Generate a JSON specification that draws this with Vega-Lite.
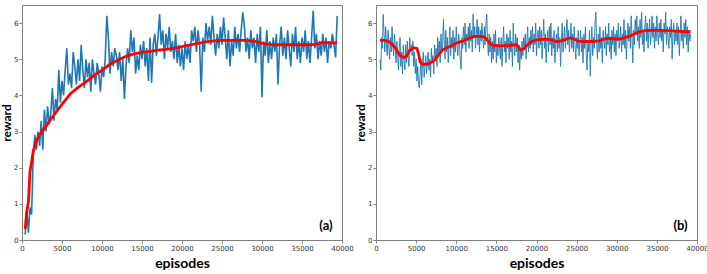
{
"$schema": "https://vega.github.io/schema/vega-lite/v6.json",
"padding": {"left": 0, "top": 4, "right": 0, "bottom": 0},
"spacing": 34,
"bounds": "flush",
"config": {
 "font": "Lato",
 "view": {"stroke": "#808080", "strokeWidth": 1},
 "axis": {"grid": false, "domain": false, "tickColor": "#808080", "tickSize": 3, "labelFontSize": 7, "labelColor": "#333333", "labelFont": "DejaVu Sans", "titleFontWeight": "bold", "titleColor": "#000000", "labelPadding": 1, "labelOverlap": false, "labelSeparation": 0},
 "axisX": {"titleFontSize": 14, "titlePadding": 5, "labelFlush": false},
 "axisY": {"titleFontSize": 12, "titlePadding": 0}
},
"datasets": {
"a_raw": [
{"e":400,"r":0.15},{"e":600,"r":0.85},{"e":800,"r":0.2},{"e":1000,"r":0.9},{"e":1200,"r":0.7},{"e":1400,"r":2.3},{"e":1600,"r":2.9},{"e":1800,"r":2.5},{"e":2000,"r":3.0},{"e":2200,"r":2.6},
{"e":2400,"r":3.3},{"e":2600,"r":2.5},{"e":2800,"r":3.6},{"e":3000,"r":3.0},{"e":3200,"r":3.7},{"e":3400,"r":3.2},{"e":3600,"r":3.5},{"e":3800,"r":4.2},{"e":4000,"r":3.3},{"e":4200,"r":3.9},
{"e":4400,"r":3.6},{"e":4600,"r":4.7},{"e":4800,"r":3.8},{"e":5000,"r":4.4},{"e":5200,"r":4.0},{"e":5400,"r":4.7},{"e":5600,"r":5.3},{"e":5800,"r":4.3},{"e":6000,"r":4.6},{"e":6200,"r":4.2},
{"e":6400,"r":5.2},{"e":6600,"r":4.8},{"e":6800,"r":4.3},{"e":7000,"r":5.0},{"e":7200,"r":4.4},{"e":7400,"r":5.4},{"e":7600,"r":4.7},{"e":7800,"r":4.2},{"e":8000,"r":5.0},{"e":8200,"r":4.5},
{"e":8400,"r":4.9},{"e":8600,"r":4.1},{"e":8800,"r":5.0},{"e":9000,"r":4.6},{"e":9200,"r":4.3},{"e":9400,"r":4.9},{"e":9600,"r":4.6},{"e":9800,"r":4.1},{"e":10000,"r":4.8},{"e":10200,"r":4.5},
{"e":10400,"r":5.0},{"e":10600,"r":6.2},{"e":10800,"r":5.6},{"e":11000,"r":4.6},{"e":11200,"r":5.2},{"e":11400,"r":4.8},{"e":11600,"r":5.3},{"e":11800,"r":5.1},{"e":12000,"r":4.7},{"e":12200,"r":5.2},
{"e":12400,"r":4.4},{"e":12600,"r":5.0},{"e":12800,"r":3.9},{"e":13000,"r":4.8},{"e":13200,"r":5.3},{"e":13400,"r":4.9},{"e":13600,"r":5.8},{"e":13800,"r":5.2},{"e":14000,"r":5.6},{"e":14200,"r":4.6},
{"e":14400,"r":5.1},{"e":14600,"r":4.7},{"e":14800,"r":5.4},{"e":15000,"r":5.0},{"e":15200,"r":5.5},{"e":15400,"r":4.8},{"e":15600,"r":5.3},{"e":15800,"r":4.4},{"e":16000,"r":5.6},{"e":16200,"r":4.35},
{"e":16400,"r":5.4},{"e":16600,"r":5.7},{"e":16800,"r":5.1},{"e":17000,"r":5.6},{"e":17200,"r":6.25},{"e":17400,"r":5.4},{"e":17600,"r":5.8},{"e":17800,"r":5.0},{"e":18000,"r":5.7},{"e":18200,"r":5.3},
{"e":18400,"r":5.9},{"e":18600,"r":5.2},{"e":18800,"r":5.5},{"e":19000,"r":5.0},{"e":19200,"r":5.7},{"e":19400,"r":4.9},{"e":19600,"r":5.4},{"e":19800,"r":4.8},{"e":20000,"r":5.3},{"e":20200,"r":4.7},
{"e":20400,"r":5.5},{"e":20600,"r":5.0},{"e":20800,"r":5.4},{"e":21000,"r":4.9},{"e":21200,"r":5.8},{"e":21400,"r":5.5},{"e":21600,"r":5.9},{"e":21800,"r":5.2},{"e":22000,"r":5.8},{"e":22200,"r":5.4},
{"e":22400,"r":4.1},{"e":22600,"r":5.6},{"e":22800,"r":5.2},{"e":23000,"r":6.0},{"e":23200,"r":5.5},{"e":23400,"r":5.9},{"e":23600,"r":5.4},{"e":23800,"r":6.2},{"e":24000,"r":5.6},{"e":24200,"r":5.1},
{"e":24400,"r":5.7},{"e":24600,"r":5.3},{"e":24800,"r":5.9},{"e":25000,"r":5.4},{"e":25200,"r":6.15},{"e":25400,"r":5.6},{"e":25600,"r":5.0},{"e":25800,"r":5.8},{"e":26000,"r":4.8},{"e":26200,"r":5.5},
{"e":26400,"r":5.1},{"e":26600,"r":5.9},{"e":26800,"r":5.3},{"e":27000,"r":5.7},{"e":27200,"r":5.2},{"e":27400,"r":5.8},{"e":27600,"r":6.3},{"e":27800,"r":5.9},{"e":28000,"r":5.2},{"e":28200,"r":5.6},
{"e":28400,"r":5.0},{"e":28600,"r":5.8},{"e":28800,"r":5.3},{"e":29000,"r":5.6},{"e":29200,"r":4.9},{"e":29400,"r":5.7},{"e":29600,"r":5.2},{"e":29800,"r":5.9},{"e":30000,"r":3.95},{"e":30200,"r":5.5},
{"e":30400,"r":5.1},{"e":30600,"r":5.8},{"e":30800,"r":4.9},{"e":31000,"r":5.5},{"e":31200,"r":5.0},{"e":31400,"r":5.6},{"e":31600,"r":5.2},{"e":31800,"r":5.7},{"e":32000,"r":4.3},{"e":32200,"r":5.4},
{"e":32400,"r":5.9},{"e":32600,"r":5.1},{"e":32800,"r":5.6},{"e":33000,"r":5.0},{"e":33200,"r":5.8},{"e":33400,"r":5.3},{"e":33600,"r":4.8},{"e":33800,"r":5.7},{"e":34000,"r":5.2},{"e":34200,"r":5.9},
{"e":34400,"r":5.0},{"e":34600,"r":5.5},{"e":34800,"r":4.9},{"e":35000,"r":5.6},{"e":35200,"r":5.2},{"e":35400,"r":5.8},{"e":35600,"r":5.0},{"e":35800,"r":5.5},{"e":36000,"r":4.9},{"e":36200,"r":5.6},
{"e":36400,"r":6.35},{"e":36600,"r":5.3},{"e":36800,"r":5.7},{"e":37000,"r":5.0},{"e":37200,"r":5.5},{"e":37400,"r":5.1},{"e":37600,"r":5.7},{"e":37800,"r":5.2},{"e":38000,"r":5.6},{"e":38200,"r":4.9},
{"e":38400,"r":5.5},{"e":38600,"r":5.3},{"e":38800,"r":5.7},{"e":39000,"r":5.4},{"e":39200,"r":5.05},{"e":39400,"r":6.2}
],
"a_smooth": [
{"e":400,"r":0.3},{"e":600,"r":0.8},{"e":800,"r":1.05},{"e":1000,"r":1.9},{"e":1200,"r":2.15},{"e":1400,"r":2.45},{"e":1800,"r":2.75},{"e":2250,"r":2.93},{"e":3000,"r":3.15},{"e":3900,"r":3.43},
{"e":5000,"r":3.75},{"e":6000,"r":4.03},{"e":7000,"r":4.22},{"e":8100,"r":4.39},{"e":9000,"r":4.55},{"e":10000,"r":4.7},{"e":11000,"r":4.86},{"e":12000,"r":4.98},{"e":13000,"r":5.08},{"e":14000,"r":5.15},
{"e":15000,"r":5.19},{"e":16000,"r":5.22},{"e":17000,"r":5.25},{"e":18000,"r":5.27},{"e":19000,"r":5.3},{"e":20000,"r":5.35},{"e":21000,"r":5.4},{"e":22000,"r":5.44},{"e":23000,"r":5.48},{"e":24000,"r":5.51},
{"e":25000,"r":5.52},{"e":26000,"r":5.52},{"e":27000,"r":5.52},{"e":28000,"r":5.52},{"e":29000,"r":5.5},{"e":30000,"r":5.44},{"e":31000,"r":5.41},{"e":32000,"r":5.4},{"e":34000,"r":5.4},{"e":36000,"r":5.4},
{"e":36800,"r":5.41},{"e":37300,"r":5.45},{"e":38000,"r":5.46},{"e":39400,"r":5.45}
],
"b_raw": [
{"e":500,"r":5.0},{"e":600,"r":4.7},{"e":700,"r":5.6},{"e":800,"r":5.3},{"e":900,"r":6.24},{"e":1000,"r":5.7},{"e":1100,"r":5.2},{"e":1200,"r":5.9},{"e":1300,"r":5.4},{"e":1400,"r":5.1},
{"e":1500,"r":5.8},{"e":1600,"r":5.3},{"e":1700,"r":5.0},{"e":1800,"r":5.6},{"e":1900,"r":5.2},{"e":2000,"r":5.9},{"e":2100,"r":5.4},{"e":2200,"r":5.1},{"e":2300,"r":5.7},{"e":2400,"r":5.3},
{"e":2500,"r":4.9},{"e":2600,"r":5.5},{"e":2700,"r":5.1},{"e":2800,"r":4.7},{"e":2900,"r":5.3},{"e":3000,"r":5.6},{"e":3100,"r":4.8},{"e":3200,"r":5.2},{"e":3300,"r":4.6},{"e":3400,"r":5.4},
{"e":3500,"r":5.0},{"e":3600,"r":4.7},{"e":3700,"r":5.4},{"e":3800,"r":4.9},{"e":3900,"r":5.5},{"e":4000,"r":5.1},{"e":4100,"r":4.8},{"e":4200,"r":5.6},{"e":4300,"r":5.2},{"e":4400,"r":5.4},
{"e":4500,"r":5.1},{"e":4600,"r":5.5},{"e":4700,"r":4.8},{"e":4800,"r":5.2},{"e":4900,"r":4.6},{"e":5000,"r":5.0},{"e":5100,"r":4.4},{"e":5200,"r":4.8},{"e":5300,"r":4.3},{"e":5400,"r":4.2},
{"e":5500,"r":4.6},{"e":5600,"r":5.0},{"e":5700,"r":4.3},{"e":5800,"r":4.9},{"e":5900,"r":5.2},{"e":6000,"r":4.5},{"e":6100,"r":4.8},{"e":6200,"r":5.1},{"e":6300,"r":4.6},{"e":6400,"r":5.0},
{"e":6500,"r":5.2},{"e":6600,"r":4.7},{"e":6700,"r":5.0},{"e":6800,"r":4.5},{"e":6900,"r":5.3},{"e":7000,"r":4.9},{"e":7100,"r":5.1},{"e":7200,"r":4.6},{"e":7300,"r":5.4},{"e":7400,"r":5.0},
{"e":7500,"r":5.3},{"e":7600,"r":4.8},{"e":7700,"r":5.6},{"e":7800,"r":5.1},{"e":7900,"r":5.5},{"e":8000,"r":4.9},{"e":8100,"r":5.7},{"e":8200,"r":5.2},{"e":8300,"r":5.4},{"e":8400,"r":6.1},
{"e":8500,"r":5.5},{"e":8600,"r":5.0},{"e":8700,"r":5.8},{"e":8800,"r":5.2},{"e":8900,"r":5.6},{"e":9000,"r":4.9},{"e":9100,"r":5.4},{"e":9200,"r":5.9},{"e":9300,"r":5.1},{"e":9400,"r":5.6},
{"e":9500,"r":5.3},{"e":9600,"r":5.8},{"e":9700,"r":5.0},{"e":9800,"r":5.6},{"e":9900,"r":5.2},{"e":10000,"r":5.9},{"e":10100,"r":5.4},{"e":10200,"r":5.1},{"e":10300,"r":5.7},{"e":10400,"r":5.5},
{"e":10500,"r":5.0},{"e":10600,"r":4.72},{"e":10700,"r":5.6},{"e":10800,"r":5.3},{"e":10900,"r":5.9},{"e":11000,"r":5.4},{"e":11100,"r":6.0},{"e":11200,"r":5.2},{"e":11300,"r":5.7},{"e":11400,"r":5.5},
{"e":11500,"r":5.9},{"e":11600,"r":5.3},{"e":11700,"r":6.0},{"e":11800,"r":5.5},{"e":11900,"r":5.8},{"e":12000,"r":5.2},{"e":12100,"r":6.25},{"e":12200,"r":5.6},{"e":12300,"r":5.9},{"e":12400,"r":5.3},
{"e":12500,"r":5.7},{"e":12600,"r":6.1},{"e":12700,"r":5.4},{"e":12800,"r":5.9},{"e":12900,"r":5.2},{"e":13000,"r":5.8},{"e":13100,"r":5.5},{"e":13200,"r":6.0},{"e":13300,"r":5.6},{"e":13400,"r":5.3},
{"e":13500,"r":5.9},{"e":13600,"r":5.4},{"e":13700,"r":6.0},{"e":13800,"r":6.25},{"e":13900,"r":5.5},{"e":14000,"r":5.1},{"e":14100,"r":5.7},{"e":14200,"r":5.2},{"e":14300,"r":5.6},{"e":14400,"r":4.9},
{"e":14500,"r":5.5},{"e":14600,"r":5.0},{"e":14700,"r":5.7},{"e":14800,"r":5.2},{"e":14900,"r":5.8},{"e":15000,"r":4.9},{"e":15100,"r":5.4},{"e":15200,"r":5.1},{"e":15300,"r":5.6},{"e":15400,"r":5.3},
{"e":15500,"r":5.0},{"e":15600,"r":5.6},{"e":15700,"r":4.8},{"e":15800,"r":5.4},{"e":15900,"r":5.9},{"e":16000,"r":5.2},{"e":16100,"r":5.5},{"e":16200,"r":4.9},{"e":16300,"r":5.7},{"e":16400,"r":5.3},
{"e":16500,"r":5.6},{"e":16600,"r":5.0},{"e":16700,"r":5.8},{"e":16800,"r":5.2},{"e":16900,"r":5.5},{"e":17000,"r":4.8},{"e":17100,"r":6.0},{"e":17200,"r":5.4},{"e":17300,"r":5.1},{"e":17400,"r":5.7},
{"e":17500,"r":5.2},{"e":17600,"r":5.6},{"e":17700,"r":4.9},{"e":17800,"r":5.4},{"e":17900,"r":4.7},{"e":18000,"r":5.3},{"e":18100,"r":5.0},{"e":18200,"r":5.5},{"e":18300,"r":5.1},{"e":18400,"r":5.6},
{"e":18500,"r":5.3},{"e":18600,"r":5.7},{"e":18700,"r":5.0},{"e":18800,"r":5.5},{"e":18900,"r":5.9},{"e":19000,"r":5.2},{"e":19100,"r":5.6},{"e":19200,"r":5.3},{"e":19300,"r":5.8},{"e":19400,"r":5.4},
{"e":19500,"r":5.9},{"e":19600,"r":5.2},{"e":19700,"r":5.7},{"e":19800,"r":5.4},{"e":19900,"r":6.0},{"e":20000,"r":5.1},{"e":20100,"r":5.6},{"e":20200,"r":5.8},{"e":20300,"r":5.3},{"e":20400,"r":5.9},
{"e":20500,"r":5.4},{"e":20600,"r":5.8},{"e":20700,"r":5.0},{"e":20800,"r":5.6},{"e":20900,"r":6.1},{"e":21000,"r":5.3},{"e":21100,"r":5.7},{"e":21200,"r":4.9},{"e":21300,"r":5.5},{"e":21400,"r":5.8},
{"e":21500,"r":5.2},{"e":21600,"r":5.9},{"e":21700,"r":5.4},{"e":21800,"r":6.0},{"e":21900,"r":5.1},{"e":22000,"r":5.6},{"e":22100,"r":5.3},{"e":22200,"r":5.8},{"e":22300,"r":4.9},{"e":22400,"r":5.5},
{"e":22500,"r":5.7},{"e":22600,"r":5.2},{"e":22700,"r":5.9},{"e":22800,"r":5.3},{"e":22900,"r":5.6},{"e":23000,"r":4.8},{"e":23100,"r":5.5},{"e":23200,"r":6.0},{"e":23300,"r":5.2},{"e":23400,"r":5.6},
{"e":23500,"r":5.9},{"e":23600,"r":5.3},{"e":23700,"r":5.7},{"e":23800,"r":6.1},{"e":23900,"r":5.4},{"e":24000,"r":5.8},{"e":24100,"r":5.2},{"e":24200,"r":5.6},{"e":24300,"r":6.0},{"e":24400,"r":5.3},
{"e":24500,"r":5.7},{"e":24600,"r":5.2},{"e":24700,"r":5.9},{"e":24800,"r":5.4},{"e":24900,"r":5.0},{"e":25000,"r":5.6},{"e":25100,"r":5.3},{"e":25200,"r":5.8},{"e":25300,"r":5.1},{"e":25400,"r":5.5},
{"e":25500,"r":5.8},{"e":25600,"r":5.2},{"e":25700,"r":5.6},{"e":25800,"r":4.9},{"e":25900,"r":5.7},{"e":26000,"r":5.3},{"e":26100,"r":5.9},{"e":26200,"r":5.1},{"e":26300,"r":4.7},{"e":26400,"r":5.5},
{"e":26500,"r":5.2},{"e":26600,"r":5.8},{"e":26700,"r":4.53},{"e":26800,"r":5.4},{"e":26900,"r":5.9},{"e":27000,"r":5.1},{"e":27100,"r":5.6},{"e":27200,"r":5.3},{"e":27300,"r":6.0},{"e":27400,"r":6.3},
{"e":27500,"r":5.4},{"e":27600,"r":5.0},{"e":27700,"r":5.7},{"e":27800,"r":5.2},{"e":27900,"r":5.9},{"e":28000,"r":5.3},{"e":28100,"r":5.6},{"e":28200,"r":4.9},{"e":28300,"r":5.8},{"e":28400,"r":5.5},
{"e":28500,"r":5.3},{"e":28600,"r":5.9},{"e":28700,"r":5.1},{"e":28800,"r":5.7},{"e":28900,"r":5.4},{"e":29000,"r":6.0},{"e":29100,"r":5.2},{"e":29200,"r":5.6},{"e":29300,"r":5.0},{"e":29400,"r":5.8},
{"e":29500,"r":5.4},{"e":29600,"r":5.9},{"e":29700,"r":5.2},{"e":29800,"r":5.7},{"e":29900,"r":5.1},{"e":30000,"r":5.8},{"e":30100,"r":5.5},{"e":30200,"r":6.0},{"e":30300,"r":5.3},{"e":30400,"r":5.6},
{"e":30500,"r":5.9},{"e":30600,"r":5.2},{"e":30700,"r":5.7},{"e":30800,"r":5.4},{"e":30900,"r":6.1},{"e":31000,"r":5.3},{"e":31100,"r":5.8},{"e":31200,"r":5.0},{"e":31300,"r":5.6},{"e":31400,"r":6.0},
{"e":31500,"r":5.5},{"e":31600,"r":5.9},{"e":31700,"r":5.3},{"e":31800,"r":6.2},{"e":31900,"r":5.6},{"e":32000,"r":4.9},{"e":32100,"r":5.8},{"e":32200,"r":5.4},{"e":32300,"r":6.1},{"e":32400,"r":5.7},
{"e":32500,"r":6.2},{"e":32600,"r":5.5},{"e":32700,"r":5.9},{"e":32800,"r":5.3},{"e":32900,"r":6.1},{"e":33000,"r":5.6},{"e":33100,"r":6.3},{"e":33200,"r":5.4},{"e":33300,"r":5.8},{"e":33400,"r":5.2},
{"e":33500,"r":5.9},{"e":33600,"r":6.2},{"e":33700,"r":5.5},{"e":33800,"r":6.0},{"e":33900,"r":5.3},{"e":34000,"r":5.8},{"e":34100,"r":6.1},{"e":34200,"r":5.4},{"e":34300,"r":5.7},{"e":34400,"r":6.2},
{"e":34500,"r":5.6},{"e":34600,"r":6.0},{"e":34700,"r":5.3},{"e":34800,"r":5.9},{"e":34900,"r":5.5},{"e":35000,"r":6.2},{"e":35100,"r":5.7},{"e":35200,"r":5.4},{"e":35300,"r":6.0},{"e":35400,"r":5.6},
{"e":35500,"r":6.1},{"e":35600,"r":5.5},{"e":35700,"r":5.8},{"e":35800,"r":5.2},{"e":35900,"r":6.0},{"e":36000,"r":5.7},{"e":36100,"r":6.3},{"e":36200,"r":5.4},{"e":36300,"r":5.9},{"e":36400,"r":5.6},
{"e":36500,"r":5.3},{"e":36600,"r":5.9},{"e":36700,"r":5.6},{"e":36800,"r":6.1},{"e":36900,"r":5.0},{"e":37000,"r":5.7},{"e":37100,"r":6.0},{"e":37200,"r":5.4},{"e":37300,"r":5.8},{"e":37400,"r":5.5},
{"e":37500,"r":6.0},{"e":37600,"r":5.4},{"e":37700,"r":5.9},{"e":37800,"r":5.1},{"e":37900,"r":5.7},{"e":38000,"r":6.2},{"e":38100,"r":5.5},{"e":38200,"r":5.8},{"e":38300,"r":5.3},{"e":38400,"r":6.0},
{"e":38500,"r":5.6},{"e":38600,"r":6.1},{"e":38700,"r":5.4},{"e":38800,"r":5.9},{"e":38900,"r":5.2},{"e":39000,"r":5.8},{"e":39100,"r":5.5},{"e":39200,"r":5.7}
],
"b_smooth": [
{"e":500,"r":5.52},{"e":1000,"r":5.52},{"e":1500,"r":5.5},{"e":2000,"r":5.42},{"e":2500,"r":5.28},{"e":3000,"r":5.1},{"e":3500,"r":5.05},{"e":3800,"r":5.08},{"e":4200,"r":5.25},{"e":4700,"r":5.32},
{"e":5100,"r":5.3},{"e":5300,"r":5.15},{"e":5500,"r":4.92},{"e":5800,"r":4.86},{"e":6300,"r":4.86},{"e":6800,"r":4.9},{"e":7300,"r":4.97},{"e":7800,"r":5.12},{"e":8300,"r":5.26},{"e":8800,"r":5.32},
{"e":9300,"r":5.36},{"e":9800,"r":5.42},{"e":10300,"r":5.47},{"e":10800,"r":5.5},{"e":11300,"r":5.55},{"e":11800,"r":5.6},{"e":12300,"r":5.63},{"e":13000,"r":5.63},{"e":13500,"r":5.62},{"e":13800,"r":5.55},
{"e":14200,"r":5.43},{"e":14700,"r":5.38},{"e":15500,"r":5.37},{"e":16500,"r":5.38},{"e":17500,"r":5.4},{"e":17800,"r":5.33},{"e":18000,"r":5.26},{"e":18400,"r":5.28},{"e":18800,"r":5.38},{"e":19300,"r":5.48},
{"e":19800,"r":5.52},{"e":20500,"r":5.55},{"e":21500,"r":5.55},{"e":22000,"r":5.53},{"e":22500,"r":5.49},{"e":23000,"r":5.5},{"e":23600,"r":5.55},{"e":24200,"r":5.59},{"e":24700,"r":5.56},{"e":25200,"r":5.5},
{"e":26000,"r":5.49},{"e":27000,"r":5.49},{"e":27800,"r":5.51},{"e":28500,"r":5.56},{"e":29200,"r":5.58},{"e":29800,"r":5.56},{"e":30400,"r":5.56},{"e":31000,"r":5.6},{"e":31600,"r":5.64},{"e":32200,"r":5.7},
{"e":32800,"r":5.76},{"e":33500,"r":5.79},{"e":34500,"r":5.8},{"e":35500,"r":5.8},{"e":36500,"r":5.79},{"e":37500,"r":5.78},{"e":38500,"r":5.76},{"e":39200,"r":5.76}
],
"a_label": [{"t":"(a)"}],
"b_label": [{"t":"(b)"}]
},
"hconcat": [
{
 "width": 320, "height": 235,
 "layer": [
  {
   "encoding": {
    "x": {"field": "e", "type": "quantitative", "scale": {"domain": [0, 40000]}, "axis": {"values": [0,5000,10000,15000,20000,25000,30000,35000,40000], "format": "d", "title": "episodes", "labelOverlap": false}},
    "y": {"field": "r", "type": "quantitative", "scale": {"domain": [0, 6.5]}, "axis": {"values": [0,1,2,3,4,5,6], "title": "reward", "labelOverlap": false}}
   },
   "layer": [
    {"data": {"name": "a_raw"}, "mark": {"type": "line", "color": "#1f77b4", "strokeWidth": 1.6}},
    {"data": {"name": "a_smooth"}, "mark": {"type": "line", "color": "#ff0000", "strokeWidth": 2.8}}
   ]
  },
  {"data": {"name": "a_label"}, "mark": {"type": "text", "fontSize": 13, "fontWeight": "bold", "color": "#000000"},
   "encoding": {
    "x": {"datum": 38000, "type": "quantitative", "axis": {"values": [0,5000,10000,15000,20000,25000,30000,35000,40000], "format": "d", "title": "episodes", "labelOverlap": false}},
    "y": {"datum": 0.4, "type": "quantitative", "axis": {"values": [0,1,2,3,4,5,6], "title": "reward", "labelOverlap": false}},
    "text": {"field": "t"}}}
 ]
},
{
 "width": 321, "height": 235,
 "layer": [
  {
   "encoding": {
    "x": {"field": "e", "type": "quantitative", "scale": {"domain": [0, 40000]}, "axis": {"values": [0,5000,10000,15000,20000,25000,30000,35000,40000], "format": "d", "title": "episodes", "labelOverlap": false}},
    "y": {"field": "r", "type": "quantitative", "scale": {"domain": [0, 6.5]}, "axis": {"values": [0,1,2,3,4,5,6], "title": "reward", "labelOverlap": false}}
   },
   "layer": [
    {"data": {"name": "b_raw"}, "mark": {"type": "line", "color": "#1f77b4", "strokeWidth": 1, "opacity": 0.9}},
    {"data": {"name": "b_smooth"}, "mark": {"type": "line", "color": "#ff0000", "strokeWidth": 2.8}}
   ]
  },
  {"data": {"name": "b_label"}, "mark": {"type": "text", "fontSize": 13, "fontWeight": "bold", "color": "#000000"},
   "encoding": {
    "x": {"datum": 37940, "type": "quantitative", "axis": {"values": [0,5000,10000,15000,20000,25000,30000,35000,40000], "format": "d", "title": "episodes", "labelOverlap": false}},
    "y": {"datum": 0.4, "type": "quantitative", "axis": {"values": [0,1,2,3,4,5,6], "title": "reward", "labelOverlap": false}},
    "text": {"field": "t"}}}
 ]
}
]
}
